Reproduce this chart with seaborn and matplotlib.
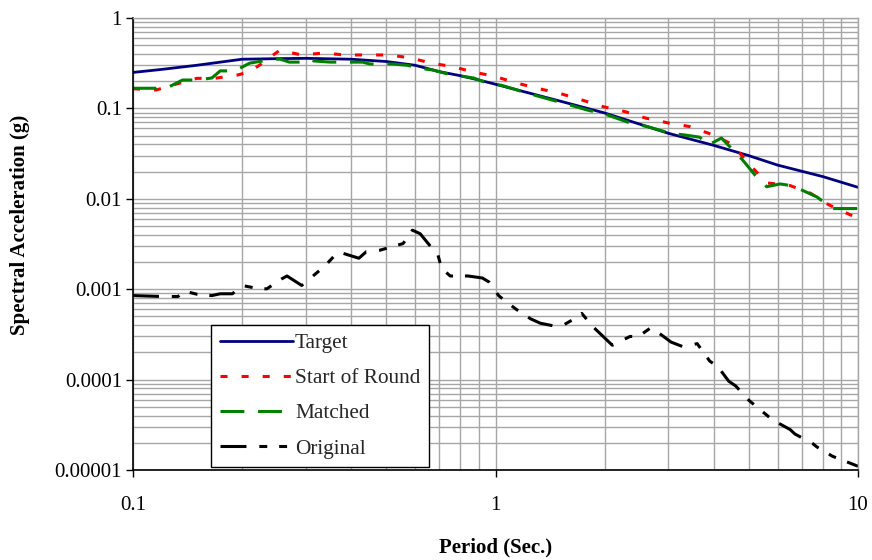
import numpy as np
import pandas as pd
import matplotlib
matplotlib.use("Agg")
import matplotlib.pyplot as plt
from matplotlib.ticker import FixedLocator, FuncFormatter, LogLocator, NullFormatter
import seaborn as sns

# Response spectra (period in s, spectral acceleration in g)
target_period = [0.1, 0.12, 0.15, 0.2, 0.25, 0.3, 0.4, 0.5, 0.6, 0.7, 0.8, 0.9, 1.0,
                 1.5, 2.0, 3.0, 4.0, 5.0, 6.0, 8.0, 10.0]
target_sa = [0.25, 0.27, 0.30, 0.35, 0.355, 0.358, 0.35, 0.33, 0.30, 0.255, 0.23, 0.206,
             0.185, 0.121, 0.089, 0.053, 0.039, 0.030, 0.0236, 0.0176, 0.0134]

start_period = [0.1, 0.116, 0.128, 0.15, 0.168, 0.195, 0.21, 0.223, 0.254, 0.292, 0.336,
                0.384, 0.445, 0.508, 0.577, 0.67, 0.76, 0.88, 1.0, 1.13, 1.33, 1.5, 1.73,
                1.99, 2.28, 2.6, 3.0, 3.43, 3.98, 4.5, 4.97, 5.6, 6.5, 7.4, 8.3, 9.8, 10.0]
start_sa = [0.165, 0.16, 0.18, 0.215, 0.215, 0.235, 0.255, 0.30, 0.44, 0.39, 0.41, 0.39,
            0.39, 0.39, 0.364, 0.315, 0.29, 0.25, 0.225, 0.193, 0.164, 0.147, 0.124, 0.104,
            0.092, 0.078, 0.069, 0.063, 0.051, 0.040, 0.025, 0.015, 0.014, 0.0115, 0.0086,
            0.0063, 0.0063]

matched_period = [0.1, 0.116, 0.118, 0.126, 0.137, 0.15, 0.165, 0.174, 0.191, 0.21, 0.243,
                  0.255, 0.27, 0.292, 0.307, 0.315, 0.35, 0.43, 0.45, 0.52, 0.57, 0.63, 0.67,
                  0.74, 0.87, 0.95, 1.04, 1.22, 1.43, 1.57, 1.79, 2.03, 2.35, 2.62, 3.04, 3.33,
                  3.66, 3.85, 4.2, 4.8, 5.2, 5.6, 6.1, 6.6, 7.7, 8.5, 10.0]
matched_sa = [0.167, 0.167, 0.175, 0.174, 0.206, 0.206, 0.217, 0.26, 0.26, 0.317, 0.35, 0.35,
              0.325, 0.325, 0.35, 0.335, 0.325, 0.325, 0.31, 0.31, 0.30, 0.275, 0.266, 0.24,
              0.217, 0.19, 0.18, 0.148, 0.124, 0.112, 0.096, 0.085, 0.069, 0.063, 0.053,
              0.0508, 0.048, 0.039, 0.047, 0.027, 0.0183, 0.0136, 0.0146, 0.0139, 0.0105,
              0.0078, 0.0078]

original_period = [0.1, 0.121, 0.133, 0.139, 0.15, 0.165, 0.174, 0.188, 0.20, 0.223, 0.234,
                   0.257, 0.266, 0.292, 0.338, 0.365, 0.379, 0.42, 0.44, 0.48, 0.556, 0.59,
                   0.62, 0.67, 0.69, 0.71, 0.75, 0.84, 0.92, 0.96, 1.02, 1.06, 1.14, 1.25,
                   1.33, 1.46, 1.52, 1.68, 1.73, 1.85, 2.1, 2.35, 2.48, 2.67, 2.76, 3.05, 3.3,
                   3.6, 3.9, 4.1, 4.4, 4.6, 5.0, 5.8, 6.5, 6.7, 7.5, 7.7, 8.5, 10.0]
original_sa = [0.00085, 0.00083, 0.00083, 0.00095, 0.00088, 0.00085, 0.00089, 0.00089,
               0.0011, 0.00101, 0.00101, 0.0013, 0.0014, 0.0011, 0.0018, 0.0025, 0.0025,
               0.0022, 0.0026, 0.0027, 0.0032, 0.0045, 0.0041, 0.0028, 0.0026, 0.0017,
               0.0014, 0.0014, 0.00133, 0.0012, 0.00085, 0.00075, 0.0006, 0.00047, 0.00042,
               0.00039, 0.00039, 0.00049, 0.00054, 0.00039, 0.00024, 0.0003, 0.0003,
               0.00037, 0.00035, 0.00026, 0.00023, 0.00025, 0.00016, 0.00014, 0.000096,
               0.000085, 0.000059, 0.000036, 0.000028, 0.000025, 0.0000196, 0.000018,
               0.0000142, 0.0000110]

x_ticks = [0.1, 1, 10]
y_ticks = [0.00001, 0.0001, 0.001, 0.01, 0.1, 1]

sns.set_theme(style="white")
plt.rcParams["font.family"] = ["Liberation Serif", "DejaVu Serif"]

fig = plt.figure(figsize=(8.72, 5.6), dpi=100)
ax = fig.add_axes([133 / 872, 1 - 470 / 560, 725 / 872, 452 / 560])

grid_col = "#a6a6a6"
ax.set_xscale("log")
ax.set_yscale("log")
ax.set_xlim(0.1, 10)
ax.set_ylim(0.00001, 1)

ax.xaxis.set_major_locator(FixedLocator(x_ticks))
ax.yaxis.set_major_locator(FixedLocator(y_ticks))
ax.xaxis.set_minor_locator(LogLocator(base=10, subs=np.arange(2, 10)))
ax.yaxis.set_minor_locator(LogLocator(base=10, subs=np.arange(2, 10)))
ax.xaxis.set_minor_formatter(NullFormatter())
ax.yaxis.set_minor_formatter(NullFormatter())
fmt = FuncFormatter(lambda v, p: np.format_float_positional(v, trim="-"))
ax.xaxis.set_major_formatter(fmt)
ax.yaxis.set_major_formatter(fmt)

ax.grid(True, which="both", color=grid_col, lw=1.0)
ax.set_axisbelow(True)

lw = 2.2
series = [
    ("Target", target_period, target_sa, "#000080", "-", 2.0),
    ("Start of Round", start_period, start_sa, "#ff0000", (0, (2.3, 4.6)), lw),
    ("Matched", matched_period, matched_sa, "#008000", (0, (7.8, 4.5)), lw),
    ("Original", original_period, original_sa, "#000000",
     (0, (8.5, 4.2, 2.6, 3.9, 2.6, 3.9)), lw),
]
for name, xs, ys, col, ls, w in series:
    df = pd.DataFrame({"period": xs, "sa": ys})
    sns.lineplot(data=df, x="period", y="sa", ax=ax, color=col, lw=w,
                 linestyle=ls, label=name, estimator=None, sort=False)

ax.tick_params(axis="both", which="major", direction="out", length=5, width=1,
               color="black", labelsize=15, labelcolor="black", bottom=True, left=True)
ax.tick_params(axis="x", which="major", pad=14)
ax.tick_params(axis="y", which="major", pad=3)
ax.tick_params(which="minor", length=0)

for side in ["left", "bottom"]:
    ax.spines[side].set_color("black")
    ax.spines[side].set_linewidth(1.2)
for side in ["top", "right"]:
    ax.spines[side].set_color(grid_col)
    ax.spines[side].set_linewidth(1.0)

ax.set_xlabel("Period (Sec.)", fontsize=15, fontweight="bold", color="black")
ax.set_ylabel("Spectral Acceleration (g)", fontsize=15, fontweight="bold", color="black")
ax.xaxis.set_label_coords(0.5007, -0.150)
ax.xaxis.label.set_va("top")
ax.yaxis.set_label_coords(-0.142, 0.542)

leg = ax.legend(loc="lower left", bbox_to_anchor=(0.1076, 0.0066), borderaxespad=0,
                fontsize=15.3, frameon=True, fancybox=False, handlelength=3.45,
                handletextpad=0.1, labelspacing=0.72, borderpad=0.4, framealpha=1)
leg.get_frame().set_edgecolor("black")
leg.get_frame().set_linewidth(1.0)

fig.savefig("out.png", dpi=100, facecolor="white")
